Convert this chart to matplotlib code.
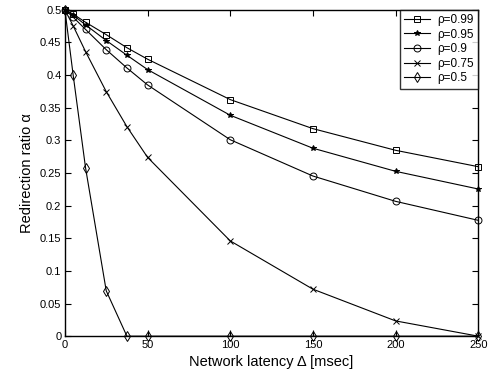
import matplotlib
matplotlib.use("Agg")
import matplotlib.pyplot as plt
from matplotlib.ticker import FuncFormatter

plt.rcParams['font.family'] = ['Liberation Sans', 'DejaVu Sans']

# network latency [msec]
latency = [0, 5, 12.5, 25, 37.5, 50, 100, 150, 200, 250]

# redirection ratio for each rho
alpha_099 = [0.5, 0.4934, 0.481, 0.462, 0.442, 0.4244, 0.3625, 0.318, 0.2848, 0.2597]
alpha_095 = [0.5, 0.4918, 0.477, 0.453, 0.4305, 0.4085, 0.3385, 0.288, 0.2526, 0.2255]
alpha_090 = [0.5, 0.4888, 0.470, 0.439, 0.411, 0.385, 0.301, 0.2454, 0.2066, 0.1775]
alpha_075 = [0.5, 0.4755, 0.436, 0.3747, 0.321, 0.274, 0.146, 0.072, 0.0234, 0.0]
alpha_050 = [0.5, 0.40, 0.2577, 0.0695, 0.0, 0.0, 0.0, 0.0, 0.0, 0.0]

labels = [u"\u03c1=0.99", u"\u03c1=0.95", u"\u03c1=0.9", u"\u03c1=0.75", u"\u03c1=0.5"]

fig = plt.figure(figsize=(4.88, 3.79), dpi=100)
ax = fig.add_axes([0.133, 0.113, 0.847, 0.861])

series = [alpha_099, alpha_095, alpha_090, alpha_075, alpha_050]
styles = [
    dict(marker='s', ms=4, mfc='none'),
    dict(marker='*', ms=4, mfc='k'),
    dict(marker='o', ms=5, mfc='none'),
    dict(marker='x', ms=4, mfc='none'),
    dict(marker='d', ms=5, mfc='none'),
]
for vals, lab, st in zip(series, labels, styles):
    ax.plot(latency, vals, color='k', lw=0.8, mec='k', mew=0.7,
            label=lab, clip_on=False, zorder=3, **st)

ax.set_xlim(0, 250)
ax.set_ylim(0, 0.5)
ax.set_xticks([0, 50, 100, 150, 200, 250])
ax.set_yticks([0, 0.05, 0.1, 0.15, 0.2, 0.25, 0.3, 0.35, 0.4, 0.45, 0.5])
ax.yaxis.set_major_formatter(FuncFormatter(lambda v, p: "%g" % round(v, 2)))
ax.tick_params(direction='in', top=True, right=True, length=4.5, width=0.8,
               labelsize=8, pad=2.5)
for sp in ax.spines.values():
    sp.set_linewidth(1.0)

ax.set_xlabel(u"Network latency \u0394 [msec]", fontsize=10.5, labelpad=4)
ax.set_ylabel(u"Redirection ratio \u03b1", fontsize=10.5, labelpad=4)

leg = ax.legend(loc='upper right', fontsize=8.5, frameon=True, fancybox=False,
                edgecolor='k', borderaxespad=0.0, handlelength=2.2,
                labelspacing=0.22, borderpad=0.35, handletextpad=0.6)
leg.get_frame().set_linewidth(1.0)

fig.savefig("out.png", dpi=100)
